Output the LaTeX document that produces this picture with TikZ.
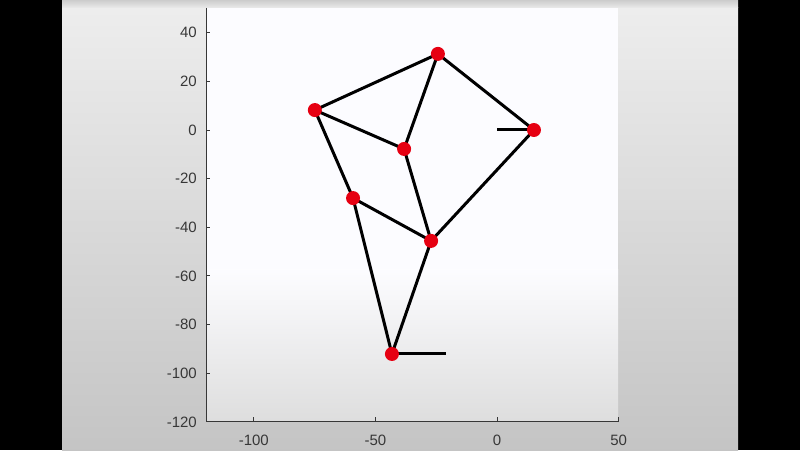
\documentclass[tikz,border=0pt]{standalone}
\usepackage{fontspec}
\setmainfont{Liberation Sans}
\begin{document}
\begin{tikzpicture}[x=1pt,y=1pt,
  member/.style={line width=3pt,black,line cap=round},
  joint/.style={circle,fill=jointred,inner sep=0pt,minimum size=14pt},
  ticklab/.style={font=\fontsize{15}{15}\selectfont,text=axisgray,inner sep=0pt},
  axisline/.style={line width=0.9pt,draw=axisgray}]
\definecolor{jointred}{RGB}{230,0,18}
\definecolor{axisgray}{RGB}{55,55,55}
\useasboundingbox (0,0) rectangle (800,450);
% background
\fill[black] (0,0) rectangle (800,450);
\shade[top color=white!93!black, bottom color=white!77!black] (62,0) rectangle (738,442);
\shade[top color=white!80!black, bottom color=white!92!black] (62,442) rectangle (738,450);
\fill[white!99!blue] (206,29) rectangle (618,442);
\shade[top color=white!99!blue, bottom color=white!87!black] (206,29) rectangle (618,180);
% axes
\draw[axisline] (206,442) -- (206,29) -- (618,29) -- (618,33);
\foreach \v/\lab in {40/40,20/20,0/0,-20/-20,-40/-40,-60/-60,-80/-80,-100/-100,-120/-120}{
  \pgfmathsetmacro{\py}{320+\v*2.432}
  \draw[axisline] (206,\py) -- (210,\py);
  \node[ticklab,anchor=east] (yl\lab) at (197,\py) {\lab};
}
\foreach \v/\lab in {-100/-100,-50/-50,0/0,50/50}{
  \pgfmathsetmacro{\px}{497+\v*2.432}
  \draw[axisline] (\px,29) -- (\px,33);
  \node[ticklab] (xl\lab) at (\px,10) {\lab};
}
% truss
\begin{scope}[shift={(497,320)},x=2.432pt,y=2.432pt]
  \coordinate (A) at (-24.3,31.3);
  \coordinate (B) at (-74.9,8.2);
  \coordinate (C) at (15.2,0);
  \coordinate (D) at (-38.2,-7.8);
  \coordinate (E) at (-59.2,-28.0);
  \coordinate (F) at (-27.1,-45.6);
  \coordinate (G) at (-43.2,-92.1);
  \coordinate (Cs) at (0,0);
  \coordinate (Gs) at (-21,-92.1);
  \draw[member] (A) -- (B);
  \draw[member] (A) -- (D);
  \draw[member] (A) -- (C);
  \draw[member] (B) -- (D);
  \draw[member] (B) -- (E);
  \draw[member] (D) -- (F);
  \draw[member] (C) -- (F);
  \draw[member] (E) -- (F);
  \draw[member] (E) -- (G);
  \draw[member] (F) -- (G);
  \draw[member,line cap=butt] (Cs) -- (C);
  \draw[member,line cap=butt] (G) -- (Gs);
  \foreach \n in {A,B,C,D,E,F,G}{
    \node[joint] (j\n) at (\n) {};
  }
\end{scope}
\end{tikzpicture}
\end{document}
